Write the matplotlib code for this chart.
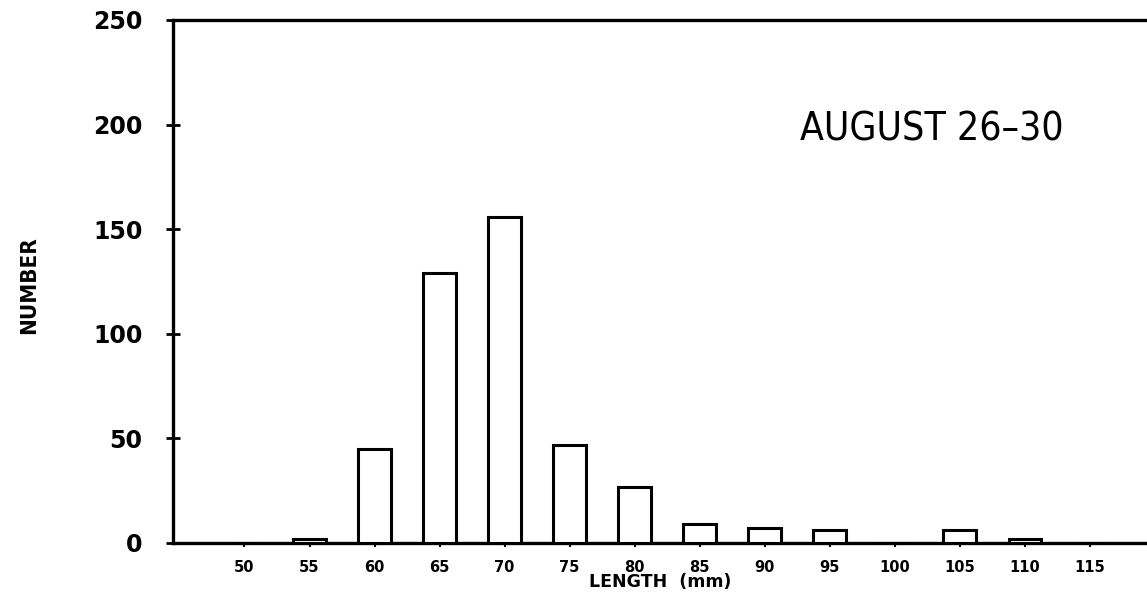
import matplotlib.pyplot as plt

# length classes (mm) and counts
lengths = [50, 55, 60, 65, 70, 75, 80, 85, 90, 95, 100, 105, 110, 115]
counts = [0, 2, 45, 129, 156, 47, 27, 9, 7, 6, 0, 6, 2, 0]
y_ticks = [0, 50, 100, 150, 200, 250]

fig = plt.figure(figsize=(11.47, 6.04), dpi=100)
ax = fig.add_axes([0.1508, 0.101, 0.8492, 0.866])

ax.bar(lengths, counts, width=2.5, facecolor='white', edgecolor='black',
       linewidth=2.2, zorder=3)

ax.set_xlim(44.5, 119.4)
ax.set_ylim(0, 250)

for side in ['left', 'bottom', 'top']:
    ax.spines[side].set_linewidth(2.4)
ax.spines['right'].set_visible(False)

tick_font = dict(family='DejaVu Sans', weight='bold')
ax.set_yticks(y_ticks)
ax.set_yticklabels([str(v) for v in y_ticks], fontsize=17, **tick_font)
ax.tick_params(axis='y', direction='inout', length=10, width=2, pad=17)
ax.set_xticks(lengths)
ax.set_xticklabels([str(v) for v in lengths], fontsize=10.5, **tick_font)
ax.tick_params(axis='x', direction='out', length=3, width=1.5, pad=9)

ax.set_xlabel('LENGTH  (mm)', fontsize=12.5, labelpad=-1, **tick_font)
fig.text(0.025, 0.528, 'NUMBER', rotation=90, ha='center', va='center',
         fontsize=16, family='DejaVu Sans', fontstretch='condensed',
         weight='bold')

ax.text(0.779, 0.79, 'AUGUST 26\u201330', transform=ax.transAxes,
        ha='center', va='center', fontsize=28,
        family='DejaVu Sans', fontstretch='condensed')

fig.savefig('out.png', dpi=100)
